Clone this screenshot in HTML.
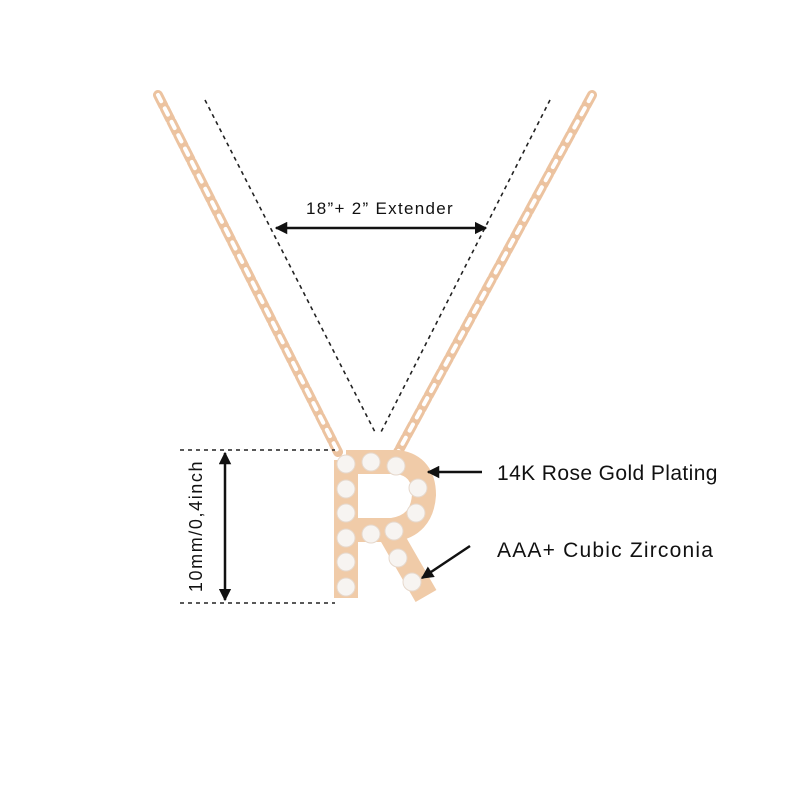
<!DOCTYPE html>
<html><head><style>body{margin:0;background:#fff}svg{display:block}</style></head><body>
<svg width="800" height="800" viewBox="0 0 800 800" xmlns="http://www.w3.org/2000/svg" font-family="Liberation Sans, sans-serif">
<defs>
<marker id="a" viewBox="0 0 10 10" refX="9" refY="5" markerWidth="5" markerHeight="5" orient="auto-start-reverse"><path d="M0,0L10,5L0,10z" fill="#111"/></marker>
</defs>
<rect width="800" height="800" fill="#fff"/>
<g fill="none" stroke="#ecc3a0" stroke-linecap="round">
<path d="M158,95 L338,452" stroke-width="10" stroke-dasharray="12 3"/>
<path d="M158,95 L338,452" stroke="#fff" stroke-width="4" stroke-dasharray="7 8"/>
<path d="M592,95 L398,452" stroke-width="10" stroke-dasharray="12 3"/>
<path d="M592,95 L398,452" stroke="#fff" stroke-width="4" stroke-dasharray="7 8"/>
</g>
<g stroke="#222" stroke-width="1.6" stroke-dasharray="4 4" fill="none">
<path d="M205,100 L376,434"/><path d="M550,100 L380,434"/>
<path d="M180,450 L335,450"/><path d="M180,603 L335,603"/>
</g>
<path d="M346,460 L346,598 M346,462 L398,462 Q424,466 424,495 Q422,526 392,530 L352,530 M388,530 L426,596" fill="none" stroke="#f0cba8" stroke-width="24" stroke-linejoin="round"/>
<g fill="#f7f4f1" stroke="#e6d8cc" stroke-width="1">
<circle cx="346" cy="464" r="9"/><circle cx="371" cy="462" r="9"/><circle cx="396" cy="466" r="9"/>
<circle cx="346" cy="489" r="9"/><circle cx="418" cy="488" r="9"/>
<circle cx="346" cy="513" r="9"/><circle cx="416" cy="513" r="9"/>
<circle cx="346" cy="538" r="9"/><circle cx="371" cy="534" r="9"/><circle cx="394" cy="531" r="9"/>
<circle cx="346" cy="562" r="9"/><circle cx="398" cy="558" r="9"/>
<circle cx="346" cy="587" r="9"/><circle cx="412" cy="582" r="9"/>
</g>
<g stroke="#111" stroke-width="2.5" fill="none">
<line x1="276" y1="228" x2="486" y2="228" marker-start="url(#a)" marker-end="url(#a)"/>
<line x1="225" y1="453" x2="225" y2="600" marker-start="url(#a)" marker-end="url(#a)"/>
<line x1="482" y1="472" x2="428" y2="472" marker-end="url(#a)"/>
<line x1="470" y1="546" x2="422" y2="578" marker-end="url(#a)"/>
</g>
<g fill="#111">
<text x="380" y="214" font-size="17" letter-spacing="1.3" text-anchor="middle">18”+ 2” Extender</text>
<text x="497" y="480" font-size="21" letter-spacing="0.4">14K Rose Gold Plating</text>
<text x="497" y="557" font-size="21" letter-spacing="1.2">AAA+ Cubic Zirconia</text>
<text transform="translate(202,526) rotate(-90)" font-size="18" letter-spacing="1.6" text-anchor="middle">10mm/0,4inch</text>
</g>
</svg>
</body></html>
